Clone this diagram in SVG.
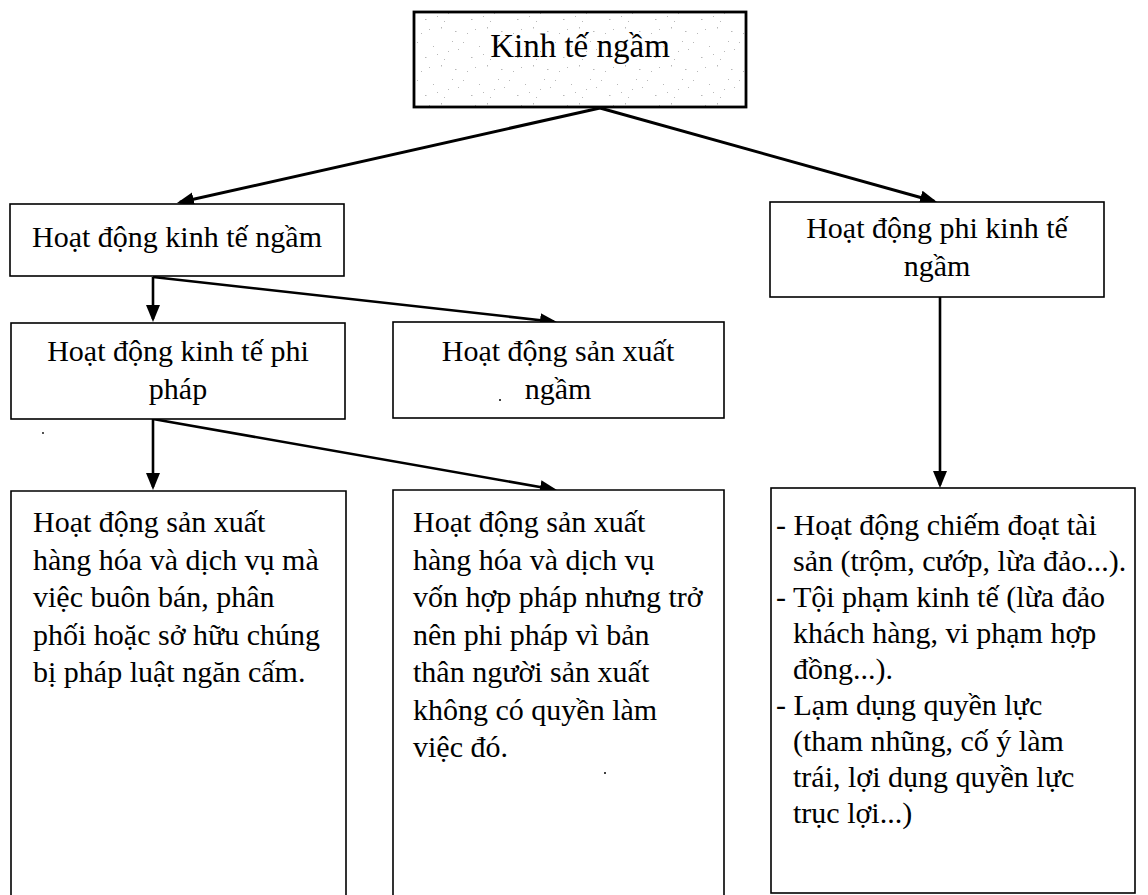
<svg xmlns="http://www.w3.org/2000/svg" width="1148" height="895" viewBox="0 0 1148 895">
  <defs>
    <style>
      .box { fill: #ffffff; stroke: #000000; stroke-width: 1.6; }
      .root { fill: url(#speckle); stroke: #000000; stroke-width: 2.8; }
      .t { font-family: "Liberation Serif", "Times New Roman", serif; font-size: 30px; fill: #000000; }
      .c { text-anchor: middle; }
      .title { font-size: 33px; }
      .edge { fill: none; stroke: #000000; stroke-width: 2.6; marker-end: url(#head); }
      .edge.bold { stroke-width: 3; }
    </style>
    <!-- filled triangular arrowhead -->
    <marker id="head" markerUnits="userSpaceOnUse" markerWidth="18" markerHeight="15" refX="14" refY="7" orient="auto">
      <path d="M0,0 L17,7 L0,14 z" fill="#000000"/>
    </marker>
    <!-- light grey grain inside the heading box -->
    <pattern id="speckle" patternUnits="userSpaceOnUse" width="46" height="38">
      <rect width="46" height="38" fill="#ffffff"/>
      <g fill="#b8b8b8">
        <rect x="3" y="4" width="1" height="1"/>
        <rect x="11" y="19" width="1.5" height="1"/>
        <rect x="19" y="8" width="1" height="1"/>
        <rect x="27" y="27" width="1" height="1.5"/>
        <rect x="34" y="13" width="1" height="1"/>
        <rect x="41" y="31" width="1.5" height="1"/>
        <rect x="7" y="33" width="1" height="1"/>
        <rect x="23" y="16" width="1" height="1"/>
        <rect x="38" y="3" width="1" height="1"/>
        <rect x="15" y="29" width="1" height="1"/>
        <rect x="30" y="21" width="1" height="1"/>
        <rect x="44" y="11" width="1" height="1"/>
      </g>
    </pattern>
  </defs>

  <rect width="1148" height="895" fill="#ffffff"/>

  <!-- connectors -->
  <g id="connectors">
    <line class="edge bold" x1="600" y1="108" x2="179.9" y2="202.3"/>
    <line class="edge bold" x1="600" y1="108" x2="934.1" y2="201.2"/>
    <line class="edge" x1="153" y1="277" x2="153" y2="319"/>
    <line class="edge" x1="153" y1="277" x2="554" y2="321.7"/>
    <line class="edge" x1="153" y1="419" x2="153" y2="487"/>
    <line class="edge" x1="153" y1="419" x2="554" y2="489.5"/>
    <line class="edge" x1="940" y1="297" x2="940" y2="485"/>
  </g>

  <!-- heading -->
  <g id="kinh-te-ngam">
    <rect class="root" x="414" y="12" width="332" height="95"/>
    <text class="t c title" x="580" y="57">Kinh tế ngầm</text>
  </g>

  <g id="hd-kinh-te-ngam">
    <rect class="box" x="10" y="204" width="334" height="72"/>
    <text class="t c" x="177" y="247">Hoạt động kinh tế ngầm</text>
  </g>

  <g id="hd-phi-kinh-te-ngam">
    <rect class="box" x="770" y="202" width="334" height="95"/>
    <text class="t c" x="937" y="238">Hoạt động phi kinh tế</text>
    <text class="t c" x="937" y="276">ngầm</text>
  </g>

  <g id="hd-kinh-te-phi-phap">
    <rect class="box" x="11" y="323" width="334" height="96"/>
    <text class="t c" x="178" y="361">Hoạt động kinh tế phi</text>
    <text class="t c" x="178" y="399">pháp</text>
  </g>

  <g id="hd-san-xuat-ngam">
    <rect class="box" x="393" y="322" width="331" height="96"/>
    <text class="t c" x="558" y="361">Hoạt động sản xuất</text>
    <text class="t c" x="558" y="399">ngầm</text>
    <circle cx="500" cy="400" r="1" fill="#000000"/>
  </g>

  <!-- lower boxes run off the bottom edge -->
  <g id="sx-bi-cam">
    <path class="box" d="M11,900 V491 H346 V900"/>
    <text class="t" x="33" y="532">Hoạt động sản xuất</text>
    <text class="t" x="33" y="569.5">hàng hóa và dịch vụ mà</text>
    <text class="t" x="33" y="607">việc buôn bán, phân</text>
    <text class="t" x="33" y="644.5">phối hoặc sở hữu chúng</text>
    <text class="t" x="33" y="682">bị pháp luật ngăn cấm.</text>
  </g>

  <g id="sx-khong-quyen">
    <path class="box" d="M393,900 V490 H724 V900"/>
    <text class="t" x="413" y="532">Hoạt động sản xuất</text>
    <text class="t" x="413" y="569.5">hàng hóa và dịch vụ</text>
    <text class="t" x="413" y="607">vốn hợp pháp nhưng trở</text>
    <text class="t" x="413" y="644.5">nên phi pháp vì bản</text>
    <text class="t" x="413" y="682">thân người sản xuất</text>
    <text class="t" x="413" y="719.5">không có quyền làm</text>
    <text class="t" x="413" y="757">việc đó.</text>
    <circle cx="605" cy="773" r="1" fill="#000000"/>
  </g>

  <g id="phi-kinh-te-list">
    <rect class="box" x="771" y="488" width="364" height="405"/>
    <text class="t" x="776" y="535">- Hoạt động chiếm đoạt tài</text>
    <text class="t" x="793" y="571">sản (trộm, cướp, lừa đảo...).</text>
    <text class="t" x="776" y="607">- Tội phạm kinh tế (lừa đảo</text>
    <text class="t" x="793" y="643">khách hàng, vi phạm hợp</text>
    <text class="t" x="793" y="679">đồng...).</text>
    <text class="t" x="776" y="715">- Lạm dụng quyền lực</text>
    <text class="t" x="793" y="751">(tham nhũng, cố ý làm</text>
    <text class="t" x="793" y="787">trái, lợi dụng quyền lực</text>
    <text class="t" x="793" y="823">trục lợi...)</text>
  </g>

  <circle cx="43" cy="433" r="0.9" fill="#000000"/>
</svg>
